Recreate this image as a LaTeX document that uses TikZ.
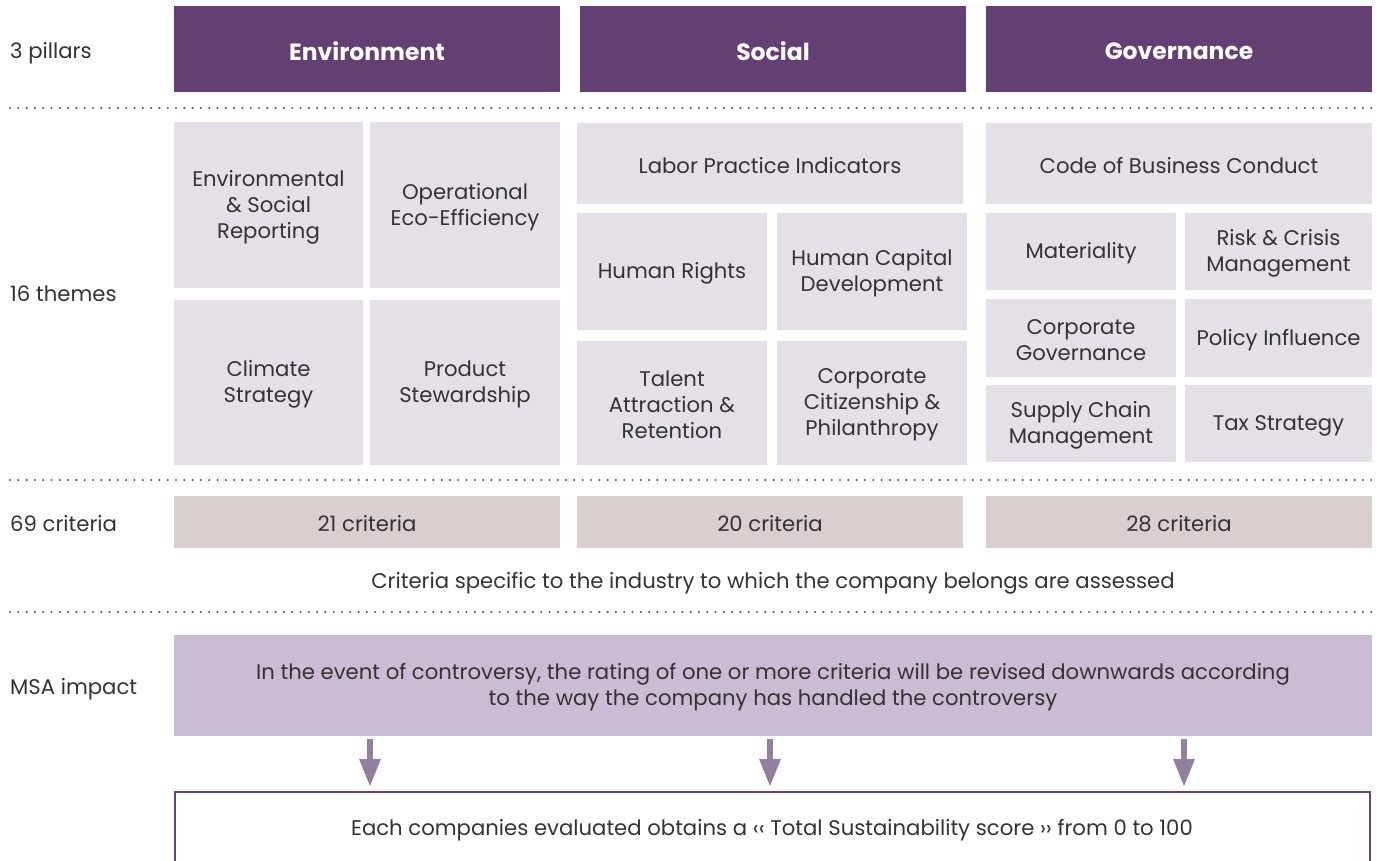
\documentclass[tikz,border=0pt]{standalone}
\usepackage{fontspec}
\setmainfont{Poppins}
\usetikzlibrary{arrows.meta}
\definecolor{pillarc}{HTML}{633F73}
\definecolor{themec}{HTML}{E5E0E8}
\definecolor{critc}{HTML}{D8CFCE}
\definecolor{msac}{HTML}{CABCD2}
\definecolor{arrowc}{HTML}{937FA0}
\definecolor{borderc}{HTML}{654576}
\definecolor{dotc}{HTML}{6E5080}
\definecolor{txtc}{HTML}{333333}
\tikzset{
  box/.style={inner sep=0pt, align=center, text=txtc, font=\fontsize{21.2}{26}\selectfont},
  pillartext/.style={box, text=white, font=\fontsize{23.5}{26}\selectfont\bfseries},
  pillarfill/.style={fill=pillarc},
  themefill/.style={fill=themec},
  critfill/.style={fill=critc},
  msafill/.style={fill=msac},
  rowlabel/.style={anchor=base west, inner sep=0pt, text=txtc, font=\fontsize{21.2}{26}\selectfont},
  dotline/.style={dotc, line width=2.4pt, line cap=round, dash pattern=on 0pt off 8.3pt},
  bigarrow/.style={arrowc, line width=6pt, -{Triangle[width=20pt,length=28pt]}},
}
% \bx{name}{fillstyle}{textstyle}{x1}{x2}{y1}{y2}{text}
\newcommand{\bx}[8]{%
  \pgfmathsetmacro{\bxcx}{(#4+#5)/2}\pgfmathsetmacro{\bxcy}{(#6+#7)/2+2}%
  \fill[#2] (#4,#6) rectangle (#5,#7);
  \node[#3] (#1) at (\bxcx,\bxcy) {#8};}
\begin{document}
\begin{tikzpicture}[x=1pt,y=-1pt]
\useasboundingbox (0,0) rectangle (1380,861);
% row labels
\node[rowlabel] (l1) at (10,59) {3 pillars};
\node[rowlabel] (l2) at (10,301) {16 themes};
\node[rowlabel] (l3) at (10,531) {69 criteria};
\node[rowlabel] (l4) at (10,694) {MSA impact};
% pillars
\bx{pe}{pillarfill}{pillartext}{174}{560}{6}{92}{Environment}
\bx{ps}{pillarfill}{pillartext}{580}{966}{6}{92}{Social}
\bx{pg}{pillarfill}{pillartext}{986}{1372}{6}{92}{Governance}
% dotted separators
\coordinate (d1a) at (10,108); \coordinate (d1b) at (1372,108);
\coordinate (d2a) at (10,480); \coordinate (d2b) at (1372,480);
\coordinate (d3a) at (10,612); \coordinate (d3b) at (1372,612);
\draw[dotline] (d1a) -- (d1b);
\draw[dotline] (d2a) -- (d2b);
\draw[dotline] (d3a) -- (d3b);
% environment themes
\bx{e1}{themefill}{box}{174}{363}{122}{288}{Environmental\\\& Social\\Reporting}
\bx{e2}{themefill}{box}{370}{560}{122}{288}{Operational\\Eco-Efficiency}
\bx{e3}{themefill}{box}{174}{363}{300}{465}{Climate\\Strategy}
\bx{e4}{themefill}{box}{370}{560}{300}{465}{Product\\Stewardship}
% social themes
\bx{s1}{themefill}{box}{577}{963}{123}{204}{Labor Practice Indicators}
\bx{s2}{themefill}{box}{577}{767}{213}{330}{Human Rights}
\bx{s3}{themefill}{box}{777}{967}{213}{330}{Human Capital\\Development}
\bx{s4}{themefill}{box}{577}{767}{341}{465}{Talent\\Attraction \&\\Retention}
\bx{s5}{themefill}{box}{777}{967}{341}{465}{Corporate\\Citizenship \&\\Philanthropy}
% governance themes
\bx{g1}{themefill}{box}{986}{1372}{123}{204}{Code of Business Conduct}
\bx{g2}{themefill}{box}{986}{1176}{213}{290}{Materiality}
\bx{g3}{themefill}{box}{1185}{1372}{213}{290}{Risk \& Crisis\\Management}
\bx{g4}{themefill}{box}{986}{1176}{299}{377}{Corporate\\Governance}
\bx{g5}{themefill}{box}{1185}{1372}{299}{377}{Policy Influence}
\bx{g6}{themefill}{box}{986}{1176}{385}{462}{Supply Chain\\Management}
\bx{g7}{themefill}{box}{1185}{1372}{385}{462}{Tax Strategy}
% criteria
\bx{c1}{critfill}{box}{174}{560}{496}{548}{21 criteria}
\bx{c2}{critfill}{box}{577}{963}{496}{548}{20 criteria}
\bx{c3}{critfill}{box}{986}{1372}{496}{548}{28 criteria}
\node[box] (cnote) at (773,583) {Criteria specific to the industry to which the company belongs are assessed};
% MSA
\bx{msa}{msafill}{box}{174}{1372}{635}{736}{In the event of controversy, the rating of one or more criteria will be revised downwards according\\to the way the company has handled the controversy}
% final box (open at bottom)
\coordinate (fb1) at (175,870); \coordinate (fb2) at (175,792);
\coordinate (fb3) at (1370,792); \coordinate (fb4) at (1370,870);
\draw[borderc, line width=2.2pt] (fb1) -- (fb2) -- (fb3) -- (fb4);
\node[box] (final) at (772,830) {Each companies evaluated obtains a ‹‹ Total Sustainability score ›› from 0 to 100};
% arrows
\coordinate (a1s) at (370,739); \coordinate (a1e) at (370,787);
\coordinate (a2s) at (770,739); \coordinate (a2e) at (770,787);
\coordinate (a3s) at (1184,739); \coordinate (a3e) at (1184,787);
\draw[bigarrow] (a1s) -- (a1e);
\draw[bigarrow] (a2s) -- (a2e);
\draw[bigarrow] (a3s) -- (a3e);
\end{tikzpicture}
\end{document}
